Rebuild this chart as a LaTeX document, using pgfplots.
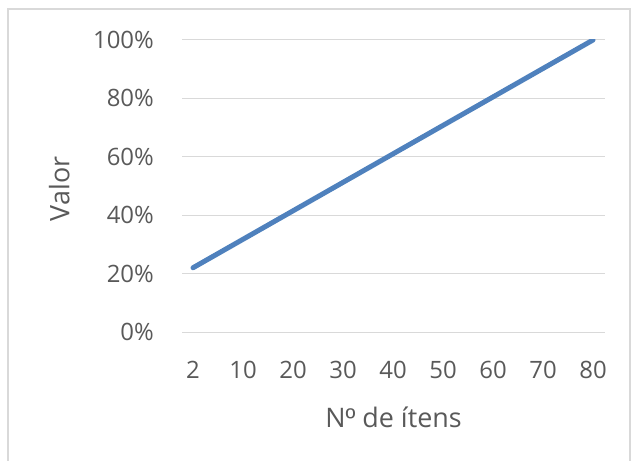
\documentclass[border=0pt]{standalone}
\usepackage{fontspec}
\setmainfont{Open Sans}
\newfontfamily\ordfont{Liberation Sans}
\usepackage{pgfplots}
\pgfplotsset{compat=1.18}
\definecolor{txt}{RGB}{89,89,89}
\definecolor{gridc}{RGB}{217,217,217}
\definecolor{linec}{RGB}{79,129,189}
\begin{document}
\begin{tikzpicture}[x=1bp,y=1bp]
\useasboundingbox (0,0) rectangle (633,-461);
\draw[gridc, line width=1.5bp] (8,-470) -- (8,-9) -- (630,-9) -- (630,-470);
\begin{axis}[at={(182bp,-332bp)}, anchor=south west, scale only axis,
 width=423bp, height=292bp,
 xmin=-0.22, xmax=8.24, ymin=0, ymax=100,
 xtick={0,...,8}, xticklabels={2,10,20,30,40,50,60,70,80},
 ytick={0,20,...,100}, yticklabel={\pgfmathprintnumber{\tick}\%},
 axis line style={draw=none}, major tick length=0pt,
 ymajorgrids, grid style={gridc, line width=1bp},
 tick label style={font=\fontsize{24}{28}\selectfont, text=txt},
 /pgf/number format/assume math mode=true,
 xticklabel style={anchor=center, yshift=-38bp},
 yticklabel style={anchor=east, inner sep=0pt, xshift=-28bp},
 xlabel={N{\ordfont º} de ítens}, ylabel={Valor},
 every axis x label/.style={at={(axis description cs:0.5,-0.291)}, anchor=center,
   font=\fontsize{27}{30}\selectfont, text=txt},
 every axis y label/.style={at={(axis description cs:-0.29,0.49)}, anchor=center, rotate=90,
   font=\fontsize{27}{30}\selectfont, text=txt},
]
\addplot[linec, line width=5bp, line cap=round] coordinates {
 (0,22) (1,31.75) (2,41.5) (3,51.25) (4,61) (5,70.75) (6,80.5) (7,90.25) (8,100)};
\end{axis}
\end{tikzpicture}
\end{document}
